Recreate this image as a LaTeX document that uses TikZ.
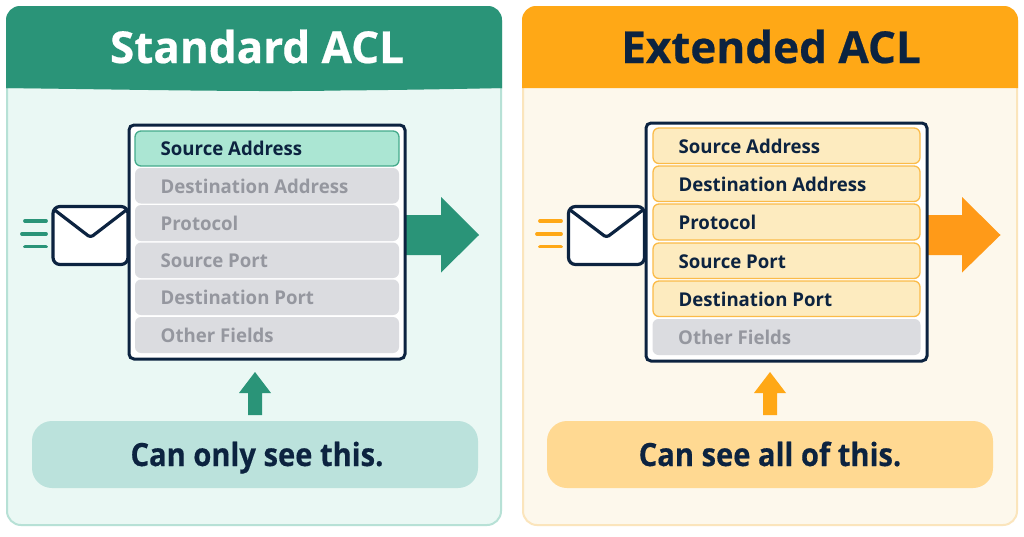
\documentclass[tikz,border=0pt]{standalone}
\usepackage{fontspec}
\setmainfont{Open Sans}
\definecolor{navy}{HTML}{0C2340}
\definecolor{grn}{HTML}{2A9478}
\definecolor{grnbody}{HTML}{EAF8F4}
\definecolor{grnline}{HTML}{B7E1D6}
\definecolor{grnrow}{HTML}{ABE6D3}
\definecolor{grnrowline}{HTML}{45AB8C}
\definecolor{grncall}{HTML}{BBE2DC}
\definecolor{org}{HTML}{FFA816}
\definecolor{orgdark}{HTML}{FF9A18}
\definecolor{orgbody}{HTML}{FDF8EC}
\definecolor{orgline}{HTML}{FBE5BC}
\definecolor{orgrow}{HTML}{FDEBBF}
\definecolor{orgrowline}{HTML}{FBBB48}
\definecolor{orgcall}{HTML}{FFD992}
\definecolor{grayrow}{HTML}{DBDCE0}
\definecolor{graytext}{HTML}{95979F}
\tikzset{
  x=1pt,y=-1pt,
  box/.style={anchor=north west,inner sep=0pt,outer sep=0pt,rounded corners=#1},
  box/.default=5pt,
  panelbox/.style={box=14pt,line width=2pt},
  listbox/.style={box=5pt,draw=navy,line width=3pt,fill=white},
  rowlabel/.style={font=\fontsize{19}{22}\selectfont\bfseries\addfontfeatures{FakeStretch=0.98},text=navy,anchor=base west,inner sep=0pt},
  grayrowbox/.style={box=6pt,fill=grayrow},
  grnrowbox/.style={box=6pt,fill=grnrow,draw=grnrowline,line width=1.3pt},
  orgrowbox/.style={box=6pt,fill=orgrow,draw=orgrowline,line width=1.3pt},
  titlelabel/.style={font=\fontsize{44}{50}\selectfont\bfseries\addfontfeatures{FakeBold=0.5},inner sep=0pt,anchor=base},
  calllabel/.style={font=\fontsize{32}{38}\selectfont\bfseries\addfontfeatures{FakeStretch=0.91,FakeBold=0.4},text=navy,inner sep=0pt,anchor=base},
  envbox/.style={box=7pt,draw=navy,line width=3.2pt,fill=white},
  flap/.style={draw=navy,line width=3.2pt,line join=round,rounded corners=3pt},
  speed/.style={line width=3.8pt,line cap=round},
}
\newcommand{\mkbox}[7]{\node[#1,minimum width=#5pt,minimum height=#6pt] (#2) at (#3,#4) {#7};}
\newcommand{\fieldrow}[8]{%
  \node[#1,minimum width=#5pt,minimum height=#6pt] (#2) at (#3,#4) {};
  \node[rowlabel,text=#7] (#2t) at ([xshift=25.5pt,yshift=-7.4pt]#2.west) {#8};}
\begin{document}
\begin{tikzpicture}
\useasboundingbox (0,0) rectangle (1024,536);
\fill[white] (0,0) rectangle (1024,536);

% ---- left panel
\mkbox{panelbox,fill=grnbody,draw=grnline}{lpanel}{7}{7}{494}{518}{}
\fill[grn,rounded corners=14pt] (6,88) -- (6,6) -- (502,6) -- (502,88);
\fill[grn] (6,70) rectangle (502,88);
\fill[grn] (6,88) .. controls (150,90) and (260,92) .. (340,90.5) .. controls (400,90) and (460,89) .. (502,88) -- cycle;
\node[titlelabel,text=white] (ltitle) at (257,63) {Standard ACL};

\coordinate (lspd) at (47,234);
\draw[speed,grn] (lspd) ++(-22,-13) -- ++(21,0);
\draw[speed,grn] (lspd) ++(-25,0) -- ++(24,0);
\draw[speed,grn] (lspd) ++(-22,12.5) -- ++(21,0);

\coordinate (larr) at (405,235);
\fill[grn] (larr) ++(-2,-20) -- ++(38,0) -- ++(0,-18) -- (479,235) -- (441,272.5) -- (441,255) -- (403,255) -- cycle;

\mkbox{listbox}{llist}{129}{125}{276}{234}{}
\fieldrow{grnrowbox}{la}{135}{131}{264}{35}{navy}{Source Address}
\fieldrow{grayrowbox}{lb}{135}{168}{264}{35.5}{graytext}{Destination Address}
\fieldrow{grayrowbox}{lc}{135}{205}{264}{36}{graytext}{Protocol}
\fieldrow{grayrowbox}{ld}{135}{242.5}{264}{35.5}{graytext}{Source Port}
\fieldrow{grayrowbox}{le}{135}{279.5}{264}{35.5}{graytext}{Destination Port}
\fieldrow{grayrowbox}{lf}{135}{317}{264}{36}{graytext}{Other Fields}

\mkbox{envbox}{lenv}{53}{206.5}{75}{58}{}
\draw[flap] ([xshift=1pt,yshift=-3pt]lenv.north west) -- ([yshift=-31pt]lenv.north) -- ([xshift=-1pt,yshift=-3pt]lenv.north east);

\mkbox{box=20pt,fill=grncall}{lcall}{32}{421}{446}{67}{}
\node[calllabel] (lcallt) at (257,466) {Can only see this.};
\fill[grn,shift={(lcall.north)}] (0,-49) -- (16,-28) -- (7,-28) -- (7,-6) -- (-7,-6) -- (-7,-28) -- (-16,-28) -- cycle;

% ---- right panel
\mkbox{panelbox,fill=orgbody,draw=orgline}{rpanel}{523}{7}{494}{518}{}
\fill[org,rounded corners=14pt] (522,88) -- (522,6) -- (1018,6) -- (1018,88);
\fill[org] (522,70) rectangle (1018,88);
\node[titlelabel,text=navy] (rtitle) at (771,63) {Extended ACL};

\coordinate (rspd) at (562,234);
\draw[speed,org] (rspd) ++(-22,-13) -- ++(21,0);
\draw[speed,org] (rspd) ++(-25,0) -- ++(24,0);
\draw[speed,org] (rspd) ++(-22,12.5) -- ++(21,0);

\coordinate (rarr) at (927,235);
\fill[orgdark] (rarr) ++(-2,-20) -- ++(37,0) -- ++(0,-18) -- (1000.5,235) -- (962,272.5) -- (962,255) -- (925,255) -- cycle;

\mkbox{listbox}{rlist}{646}{123}{281}{238}{}
\fieldrow{orgrowbox}{ra}{653}{128}{267}{35.5}{navy}{Source Address}
\fieldrow{orgrowbox}{rb}{653}{166}{267}{35.5}{navy}{Destination Address}
\fieldrow{orgrowbox}{rc}{653}{204}{267}{36}{navy}{Protocol}
\fieldrow{orgrowbox}{rd}{653}{243}{267}{35.5}{navy}{Source Port}
\fieldrow{orgrowbox}{re}{653}{281}{267}{35.5}{navy}{Destination Port}
\fieldrow{grayrowbox}{rf}{652.5}{319}{268}{36}{graytext}{Other Fields}

\mkbox{envbox}{renv}{568.5}{206.5}{76}{58}{}
\draw[flap] ([xshift=1pt,yshift=-3pt]renv.north west) -- ([yshift=-31pt]renv.north) -- ([xshift=-1pt,yshift=-3pt]renv.north east);

\mkbox{box=20pt,fill=orgcall}{rcall}{547}{421}{446}{67}{}
\node[calllabel] (rcallt) at (770,466) {Can see all of this.};
\fill[org,shift={(rcall.north)}] (0,-49) -- (16,-28) -- (7,-28) -- (7,-6) -- (-7,-6) -- (-7,-28) -- (-16,-28) -- cycle;
\end{tikzpicture}
\end{document}
